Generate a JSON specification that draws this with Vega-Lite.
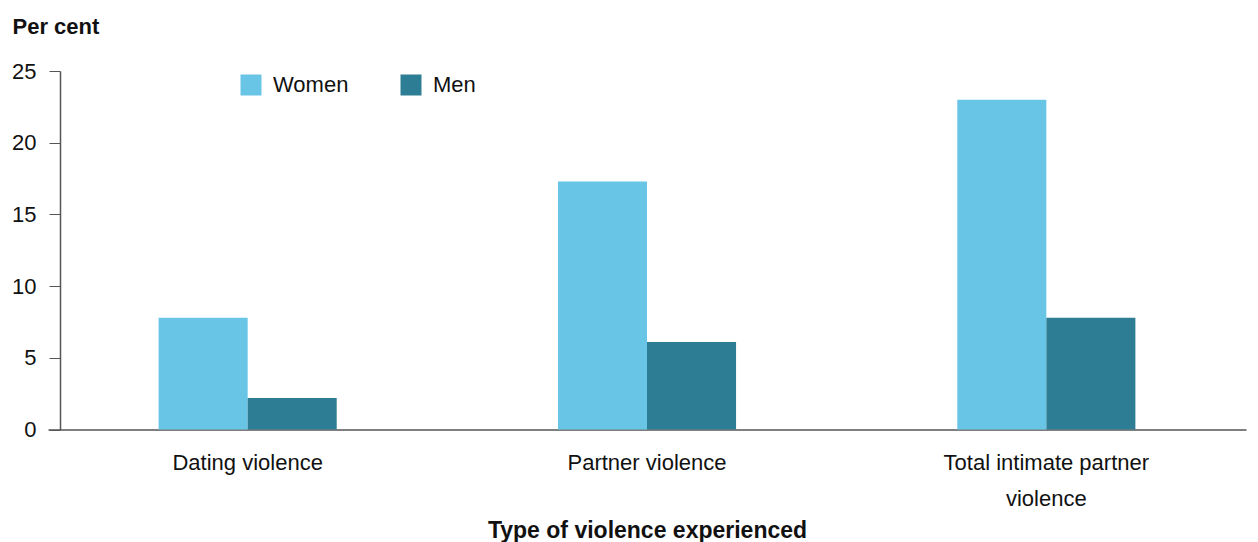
{
  "$schema": "https://vega.github.io/schema/vega-lite/v6.json",
  "width": 1198,
  "height": 358.5,
  "autosize": {"type": "none"},
  "padding": {"left": 48, "top": 71, "right": 12, "bottom": 112.5},
  "background": "white",
  "config": {
    "font": "Liberation Sans",
    "view": {"stroke": null},
    "axis": {"labelColor": "#111", "titleColor": "#111", "domainColor": "#555", "tickColor": "#555", "grid": false}
  },
  "data": {
    "values": [
      {"type": "Dating violence", "sex": "Women", "value": 7.8},
      {"type": "Dating violence", "sex": "Men", "value": 2.2},
      {"type": "Partner violence", "sex": "Women", "value": 17.3},
      {"type": "Partner violence", "sex": "Men", "value": 6.1},
      {"type": "Total intimate partner violence", "sex": "Women", "value": 23.0},
      {"type": "Total intimate partner violence", "sex": "Men", "value": 7.8}
    ]
  },
  "mark": {"type": "bar"},
  "encoding": {
    "x": {
      "field": "type",
      "type": "nominal",
      "sort": null,
      "scale": {"paddingInner": 0.554, "paddingOuter": 0.277},
      "axis": {
        "title": "Type of violence experienced",
        "titleFontSize": 23,
        "titleFontWeight": "bold",
        "titleBaseline": "alphabetic",
        "titleY": 108,
        "labelAngle": 0,
        "labelFontSize": 22,
        "labelPadding": 23,
        "labelLineHeight": 36,
        "labelLimit": 0,
        "ticks": false,
        "domainWidth": 1.5,
        "labelExpr": "datum.label == 'Total intimate partner violence' ? ['Total intimate partner', 'violence'] : datum.label"
      }
    },
    "xOffset": {"field": "sex", "type": "nominal", "sort": ["Women", "Men"], "scale": {"paddingInner": 0, "paddingOuter": 0}},
    "y": {
      "field": "value",
      "type": "quantitative",
      "scale": {"domain": [0, 25]},
      "axis": {
        "values": [0, 5, 10, 15, 20, 25],
        "offset": -12,
        "title": "Per cent",
        "titleAngle": 0,
        "titleAlign": "left",
        "titleBaseline": "alphabetic",
        "titleX": -48,
        "titleY": -38,
        "titleFontSize": 22,
        "titleFontWeight": "bold",
        "labelFontSize": 22,
        "labelPadding": 13,
        "tickSize": 11,
        "domainWidth": 1.5
      }
    },
    "color": {
      "field": "sex",
      "type": "nominal",
      "sort": ["Women", "Men"],
      "scale": {"domain": ["Women", "Men"], "range": ["#68C5E6", "#2D7E94"]},
      "legend": {
        "title": null,
        "orient": "none",
        "legendX": 192,
        "legendY": 3,
        "direction": "horizontal",
        "symbolType": "square",
        "symbolSize": 441,
        "symbolStrokeWidth": 0,
        "labelFontSize": 22,
        "labelColor": "#111",
        "labelOffset": 11,
        "columnPadding": 51
      }
    }
  }
}
